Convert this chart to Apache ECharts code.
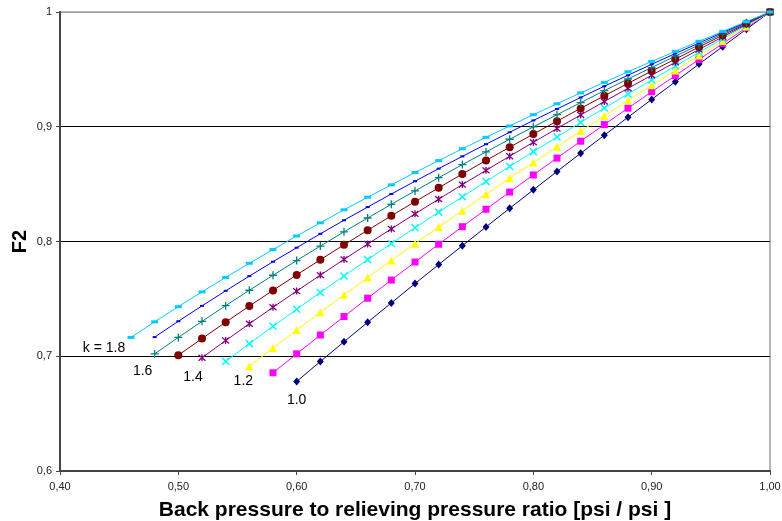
<!DOCTYPE html>
<html>
<head>
<meta charset="utf-8">
<script src="https://cdn.jsdelivr.net/npm/echarts@6/dist/echarts.min.js"></script>
<style>html,body{margin:0;padding:0;background:#fff}#c{width:782px;height:521px}</style>
</head>
<body>
<div id="c"></div>
<script>
// Back pressure ratio (x) - shared by all curves
const ratio = [0.46,0.48,0.50,0.52,0.54,0.56,0.58,0.60,0.62,0.64,0.66,0.68,0.70,0.72,0.74,0.76,0.78,0.80,0.82,0.84,0.86,0.88,0.90,0.92,0.94,0.96,0.98,1.00];
// F2 values per k (null = no point at that ratio)
const k10 = [null,null,null,null,null,null,null,0.678,0.6954,0.7126,0.7296,0.7465,0.7633,0.7799,0.7963,0.8127,0.8289,0.8450,0.8610,0.8769,0.8926,0.9083,0.9238,0.9392,0.9546,0.9698,0.9850,1];
const k11 = [null,null,null,null,null,null,0.6856,0.7021,0.7185,0.7346,0.7506,0.7664,0.7821,0.7976,0.8129,0.8281,0.8431,0.8580,0.8727,0.8874,0.9019,0.9162,0.9305,0.9446,0.9586,0.9725,0.9863,1];
const k12 = [null,null,null,null,null,0.6913,0.7072,0.7229,0.7383,0.7536,0.7686,0.7835,0.7981,0.8126,0.8269,0.8411,0.8551,0.8689,0.8826,0.8962,0.9096,0.9229,0.9361,0.9491,0.9620,0.9748,0.9874,1];
const k13 = [null,null,null,null,0.6956,0.7110,0.7261,0.7409,0.7556,0.7700,0.7842,0.7982,0.8120,0.8256,0.8390,0.8523,0.8654,0.8783,0.8911,0.9038,0.9163,0.9286,0.9408,0.9529,0.9649,0.9767,0.9884,1];
const k14 = [null,null,null,0.6987,0.7137,0.7283,0.7427,0.7568,0.7707,0.7844,0.7978,0.8110,0.8241,0.8369,0.8496,0.8620,0.8743,0.8865,0.8985,0.9103,0.9220,0.9335,0.9449,0.9562,0.9673,0.9783,0.9892,1];
const k15 = [null,null,0.7009,0.7154,0.7297,0.7437,0.7574,0.7709,0.7841,0.7971,0.8098,0.8224,0.8347,0.8468,0.8588,0.8706,0.8822,0.8936,0.9049,0.9160,0.9270,0.9378,0.9485,0.9590,0.9695,0.9798,0.9899,1];
const k16 = [null,0.7021,0.7164,0.7304,0.7441,0.7575,0.7706,0.7834,0.7960,0.8084,0.8205,0.8324,0.8441,0.8556,0.8670,0.8781,0.8891,0.8999,0.9105,0.9210,0.9314,0.9416,0.9516,0.9615,0.9713,0.9810,0.9906,1];
const k17 = [null,0.7167,0.7305,0.7439,0.7570,0.7698,0.7824,0.7946,0.8067,0.8185,0.8300,0.8414,0.8525,0.8635,0.8742,0.8848,0.8952,0.9055,0.9155,0.9255,0.9353,0.9449,0.9544,0.9638,0.9730,0.9821,0.9911,1];
const k18 = [0.7164,0.7300,0.7432,0.7561,0.7687,0.7810,0.7930,0.8048,0.8163,0.8276,0.8386,0.8494,0.8601,0.8705,0.8808,0.8908,0.9007,0.9105,0.9200,0.9295,0.9387,0.9479,0.9569,0.9657,0.9745,0.9831,0.9916,1];
// Curve labels (text shown next to first point)
const curveLabels = {k10:'1.0', k12:'1.2', k14:'1.4', k16:'1.6', k18:'k = 1.8'};
const xTicks = ['0,40','0,50','0,60','0,70','0,80','0,90','1,00'];

const FONT = 'Liberation Sans, Arial, sans-serif';
const styles = [
  {key:'k10', vals:k10, color:'#000080', symbol:'diamond', size:[7,8], off:[0,19]},
  {key:'k11', vals:k11, color:'#FF00FF', symbol:'rect', size:7},
  {key:'k12', vals:k12, color:'#FFFF00', symbol:'triangle', size:8, off:[-6,15]},
  {key:'k13', vals:k13, color:'#00FFFF', symbol:'path://M0,0L10,10M10,0L0,10', size:7, stroke:1.5},
  {key:'k14', vals:k14, color:'#800080', symbol:'path://M0,0L10,10M10,0L0,10M5,-1L5,11', size:7, stroke:1.3, off:[-9,19]},
  {key:'k15', vals:k15, color:'#800000', symbol:'circle', size:8},
  {key:'k16', vals:k16, color:'#008080', symbol:'path://M5,0L5,10M0,5L10,5', size:8, stroke:1.3, off:[-12,17]},
  {key:'k17', vals:k17, color:'#0000FF', symbol:'rect', size:[4,2]},
  {key:'k18', vals:k18, color:'#00CCFF', symbol:'rect', size:[7,3], off:[-27,11]}
];

const series = styles.map(s => {
  const data = [];
  let first = true;
  ratio.forEach((x, i) => {
    const v = s.vals[i];
    if (v === null || v === undefined) return;
    const item = {value:[x, v]};
    if (first && curveLabels[s.key]) {
      item.label = {show:true, position:'inside', offset:s.off, formatter:curveLabels[s.key],
        color:'#000', fontSize:14, fontFamily:FONT};
    }
    first = false;
    data.push(item);
  });
  const itemStyle = {color:s.color};
  if (s.stroke) { itemStyle.borderColor = s.color; itemStyle.borderWidth = s.stroke; }
  return {
    type:'line', data, symbol:s.symbol, symbolSize:s.size, showAllSymbol:true,
    lineStyle:{color:s.color, width:1}, itemStyle, label:{show:false},
    emphasis:{disabled:true}, z: 2
  };
});

const chart = echarts.init(document.getElementById('c'), null, {renderer:'canvas'});
chart.setOption({
  animation:false,
  backgroundColor:'#fff',
  textStyle:{fontFamily:FONT},
  grid:{left:60, right:12, top:12, bottom:50, outerBoundsMode:'none', containLabel:false,
    show:true, borderColor:'#a0a0a0', borderWidth:1.5, backgroundColor:'transparent'},
  xAxis:{
    type:'value', min:0.4, max:1.0, interval:0.1,
    name:'Back pressure to relieving pressure ratio [psi / psi ]',
    nameLocation:'middle', nameGap:29, nameMoveOverlap:false,
    nameTextStyle:{fontSize:21, fontWeight:'bold', color:'#000', fontFamily:FONT},
    axisLine:{show:true, lineStyle:{color:'#444', width:2}},
    axisTick:{show:true, length:4, lineStyle:{color:'#444'}},
    axisLabel:{fontSize:11, color:'#222', margin:10,
      formatter:(v)=>{ const idx = Math.round((v-0.4)/0.1); return xTicks[idx] || ''; }},
    splitLine:{show:false}
  },
  yAxis:{
    type:'value', min:0.6, max:1.0, interval:0.1,
    name:'F2', nameLocation:'middle', nameGap:30, nameRotate:90, nameMoveOverlap:false,
    nameTextStyle:{fontSize:20, fontWeight:'bold', color:'#000', fontFamily:FONT},
    axisLine:{show:true, lineStyle:{color:'#444', width:2}},
    axisTick:{show:true, length:4, lineStyle:{color:'#444'}},
    axisLabel:{fontSize:11, color:'#222', margin:8,
      formatter:(v)=> (Math.abs(v-1)<1e-9 ? '1' : v.toFixed(1).replace('.', ','))},
    splitLine:{show:true, lineStyle:{color:['#000','#000','#000','#000','#a0a0a0'], width:1}}
  },
  series
});
</script>
</body>
</html>
